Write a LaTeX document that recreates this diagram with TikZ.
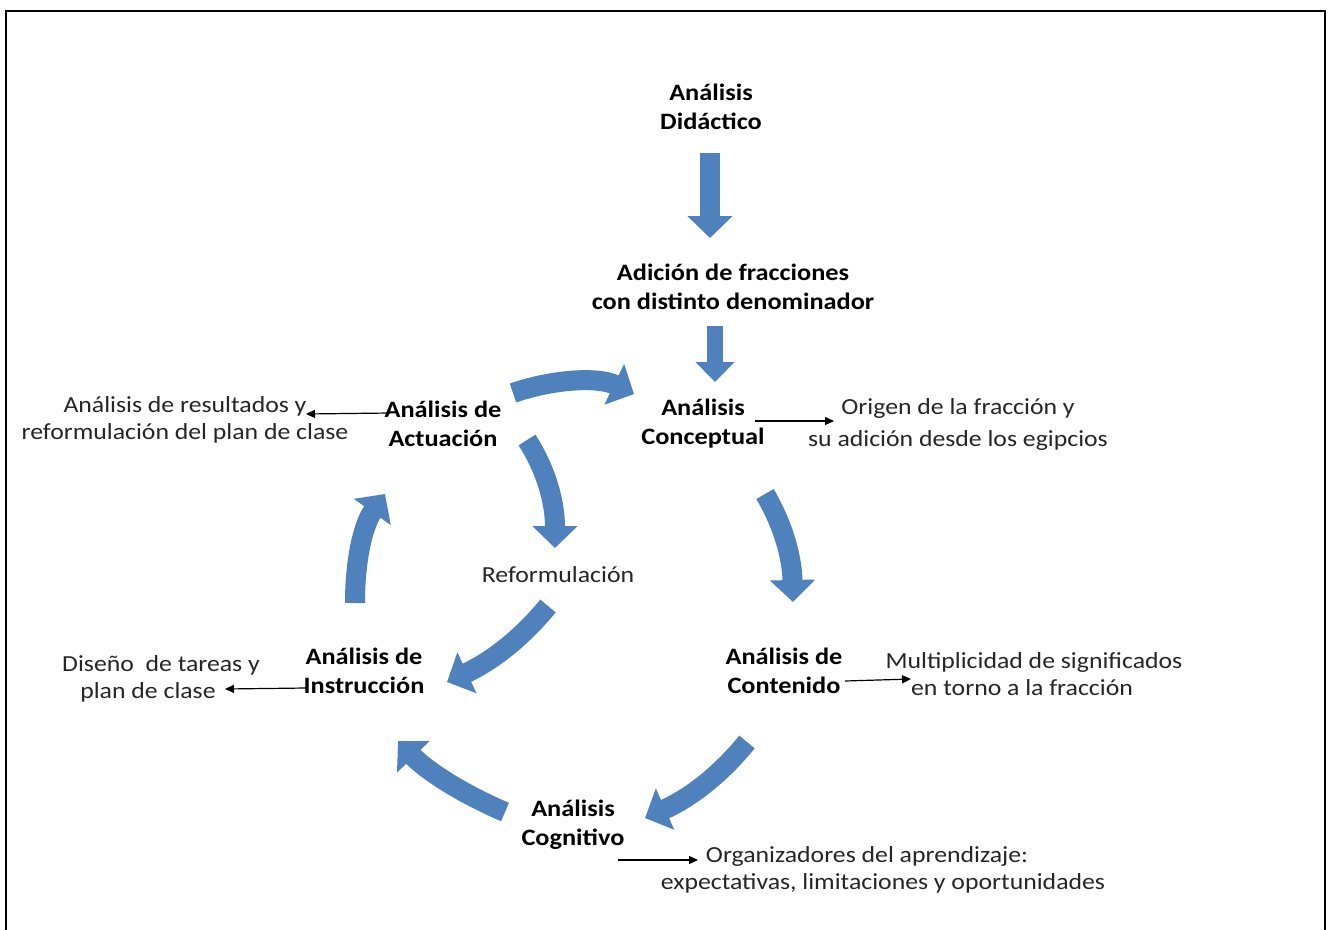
\documentclass[tikz,border=0pt]{standalone}
\usepackage{fontspec}
\setmainfont{Carlito}[FakeStretch=1.12]
\usetikzlibrary{arrows.meta}
\definecolor{blk}{HTML}{4F81BD}
\tikzset{
  bigarrow/.style={draw=blk, line width=20pt, -{Triangle[length=22pt,width=44pt]}},
  smallbig/.style={draw=blk, line width=16pt, -{Triangle[length=20pt,width=38pt]}},
  head/.style={font=\bfseries\fontsize{23.5}{29}\selectfont, align=center, text=black},
  desc/.style={font=\fontsize{23}{27}\selectfont, align=center, text=black!85},
  thinarr/.style={draw=black, line width=1.2pt, -{Triangle[length=9pt,width=8pt]}},
}
\begin{document}
\begin{tikzpicture}[x=1pt,y=-1pt]
\useasboundingbox (0,0) rectangle (1330,929);
\draw[line width=2pt] (6,935) -- (6,11) -- (1325,11) -- (1325,935);

% text nodes
\node[head] (did) at (711,107) {Análisis\\Didáctico};
\node[head] (adi) at (733,287) {Adición de fracciones\\con distinto denominador};
\node[head] (act) at (443,424) {Análisis de\\Actuación};
\node[head] (con) at (703,424) {Análisis\\Conceptual};
\node[head] (ins) at (364,671) {Análisis de\\Instrucción};
\node[head] (cnt) at (784,671) {Análisis de\\Contenido};
\node[head] (cog) at (573,825) {Análisis\\Cognitivo};
\node[desc] (ref) at (558,575) {Reformulación};
\node[desc] (res) at (185,420) {Análisis de resultados y\\reformulación del plan de clase};
\node[desc] (ori) at (958,424) {Origen de la fracción y\\[5pt]su adición desde los egipcios};
\node[desc] (mul) at (1034,674) {Multiplicidad de significados\\\hspace*{-24pt}en torno a la fracción};
\node[desc] (dis) at (161,679) {Diseño\ \ de tareas y\\\hspace*{-26pt}plan de clase};
\node[desc] (org) at (883,870) {\hspace*{-32pt}Organizadores del aprendizaje:\\expectativas, limitaciones y oportunidades};

% straight block arrows
\coordinate (a1s) at (710,153);
\coordinate (a1e) at (710,238);
\draw[bigarrow] (a1s) -- (a1e);
\coordinate (a2s) at (715,326);
\coordinate (a2e) at (715,382);
\draw[smallbig] (a2s) -- (a2e);

% curved block arrows
\coordinate (c1s) at (513,393);
\coordinate (c1e) at (634,394);
\draw[bigarrow] (c1s) .. controls (550,380) and (597,376) .. (c1e);
\coordinate (c2s) at (527,440);
\coordinate (c2e) at (555,548);
\draw[bigarrow] (c2s) .. controls (545,468) and (555,500) .. (c2e);
\coordinate (c3s) at (765,494);
\coordinate (c3e) at (793,602);
\draw[bigarrow] (c3s) .. controls (782,523) and (792,555) .. (c3e);
\coordinate (c4s) at (747,742);
\coordinate (c4e) at (645,818);
\draw[bigarrow] (c4s) .. controls (720,775) and (690,798) .. (c4e);
\coordinate (c5s) at (505,812);
\coordinate (c5e) at (398,741);
\draw[bigarrow] (c5s) .. controls (465,795) and (428,772) .. (c5e);
\coordinate (c6s) at (548,606);
\coordinate (c6e) at (447,682);
\draw[bigarrow] (c6s) .. controls (520,640) and (490,662) .. (c6e);
\coordinate (c7s) at (355,603);
\coordinate (c7e) at (385,494);
\draw[bigarrow] (c7s) .. controls (355,560) and (363,525) .. (c7e);

% thin arrows
\coordinate (t1s) at (390,413);
\coordinate (t1e) at (306,414);
\draw[thinarr] (t1s) -- (t1e);
\coordinate (t2s) at (755,421);
\coordinate (t2e) at (834,421);
\draw[thinarr] (t2s) -- (t2e);
\coordinate (t3s) at (306,688);
\coordinate (t3e) at (225,689);
\draw[thinarr] (t3s) -- (t3e);
\coordinate (t4s) at (845,681);
\coordinate (t4e) at (911,679);
\draw[thinarr] (t4s) -- (t4e);
\coordinate (t5s) at (618,860);
\coordinate (t5e) at (698,860);
\draw[thinarr] (t5s) -- (t5e);
\end{tikzpicture}
\end{document}
